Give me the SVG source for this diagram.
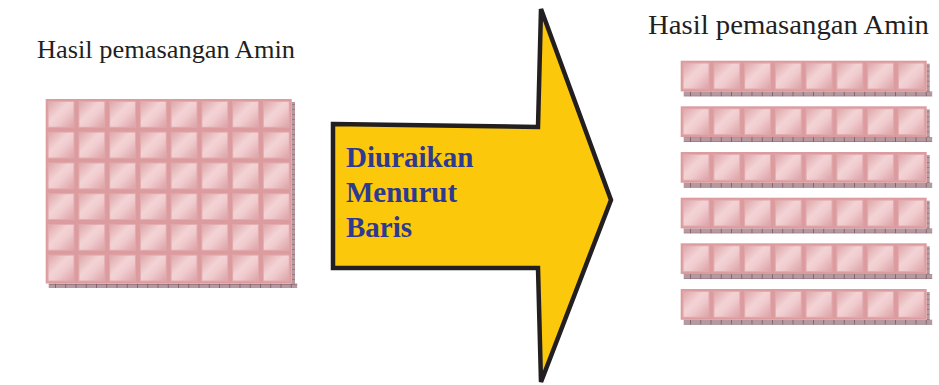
<svg xmlns="http://www.w3.org/2000/svg" xmlns:xlink="http://www.w3.org/1999/xlink" width="939" height="385" viewBox="0 0 939 385">
<style>
.title{font-family:"Liberation Serif","Times New Roman",serif;fill:#231f20}
.lbl{font-family:"Liberation Serif","Times New Roman",serif;font-weight:bold;font-size:29px;fill:#2e3990}
.arrow{fill:#fcc80b;stroke:#231f20;stroke-width:4.5;stroke-linejoin:miter}
.tiles{fill:url(#tp)}
.shadow{fill:url(#sp)}
</style>
<defs>
<linearGradient id="tg" x1="0" y1="0" x2="1" y2="1">
<stop offset="0" stop-color="#dea7aa"/>
<stop offset="0.42" stop-color="#f3d3d5"/>
<stop offset="0.6" stop-color="#f0cbce"/>
<stop offset="1" stop-color="#dca2a6"/>
</linearGradient>
<g id="tile">
<rect x="0" y="0" width="30.75" height="30.75" fill="#dc9c9f"/>
<rect x="2.6" y="2.6" width="25.5" height="25.5" fill="url(#tg)" stroke="#e4adb0" stroke-width="0.6"/>
</g>
<pattern id="tp" patternUnits="userSpaceOnUse" x="0" y="0" width="30.75" height="30.75">
<use xlink:href="#tile"/>
</pattern>
<pattern id="sp" patternUnits="userSpaceOnUse" x="0" y="0" width="10.25" height="5">
<rect x="0" y="0" width="10.25" height="5" fill="#b5999f"/>
<rect x="0" y="0" width="10.25" height="1" fill="#9a7a84"/>
<rect x="9.5" y="0" width="0.9" height="5" fill="#7a5662"/>
</pattern>
</defs>

<g id="title-left"><text class="title" x="37" y="58" font-size="26" textLength="258" lengthAdjust="spacingAndGlyphs">Hasil pemasangan Amin</text></g>
<g id="title-right"><text class="title" x="648" y="34" font-size="27" textLength="281" lengthAdjust="spacingAndGlyphs">Hasil pemasangan Amin</text></g>

<g id="grid-left" transform="translate(45.7,99)">
<rect class="shadow" x="3" y="184.5" width="248.5" height="4.5"/>
<rect class="shadow" x="246" y="3" width="3.3" height="186"/>
<rect class="tiles" x="0" y="0" width="246" height="184.5"/>
</g>

<g id="rows-right">
<g id="row1" transform="translate(680.7,60.7)"><rect class="shadow" x="3" y="30.75" width="248.5" height="5"/><rect class="shadow" x="246" y="3" width="3" height="32"/><rect class="tiles" x="0" y="0" width="246" height="30.75"/></g>
<g id="row2" transform="translate(680.7,106.3)"><rect class="shadow" x="3" y="30.75" width="248.5" height="5"/><rect class="shadow" x="246" y="3" width="3" height="32"/><rect class="tiles" x="0" y="0" width="246" height="30.75"/></g>
<g id="row3" transform="translate(680.7,152)"><rect class="shadow" x="3" y="30.75" width="248.5" height="5"/><rect class="shadow" x="246" y="3" width="3" height="32"/><rect class="tiles" x="0" y="0" width="246" height="30.75"/></g>
<g id="row4" transform="translate(680.7,197.7)"><rect class="shadow" x="3" y="30.75" width="248.5" height="5"/><rect class="shadow" x="246" y="3" width="3" height="32"/><rect class="tiles" x="0" y="0" width="246" height="30.75"/></g>
<g id="row5" transform="translate(680.7,243.3)"><rect class="shadow" x="3" y="30.75" width="248.5" height="5"/><rect class="shadow" x="246" y="3" width="3" height="32"/><rect class="tiles" x="0" y="0" width="246" height="30.75"/></g>
<g id="row6" transform="translate(680.7,289)"><rect class="shadow" x="3" y="30.75" width="248.5" height="5"/><rect class="shadow" x="246" y="3" width="3" height="32"/><rect class="tiles" x="0" y="0" width="246" height="30.75"/></g>
</g>

<g id="arrow">
<polygon class="arrow" points="333,124 538,127 541,9 611,200 541,382 538,268 333,268"/>
<text class="lbl" x="346" y="167">Diuraikan</text>
<text class="lbl" x="346" y="202">Menurut</text>
<text class="lbl" x="346" y="237">Baris</text>
</g>
</svg>
